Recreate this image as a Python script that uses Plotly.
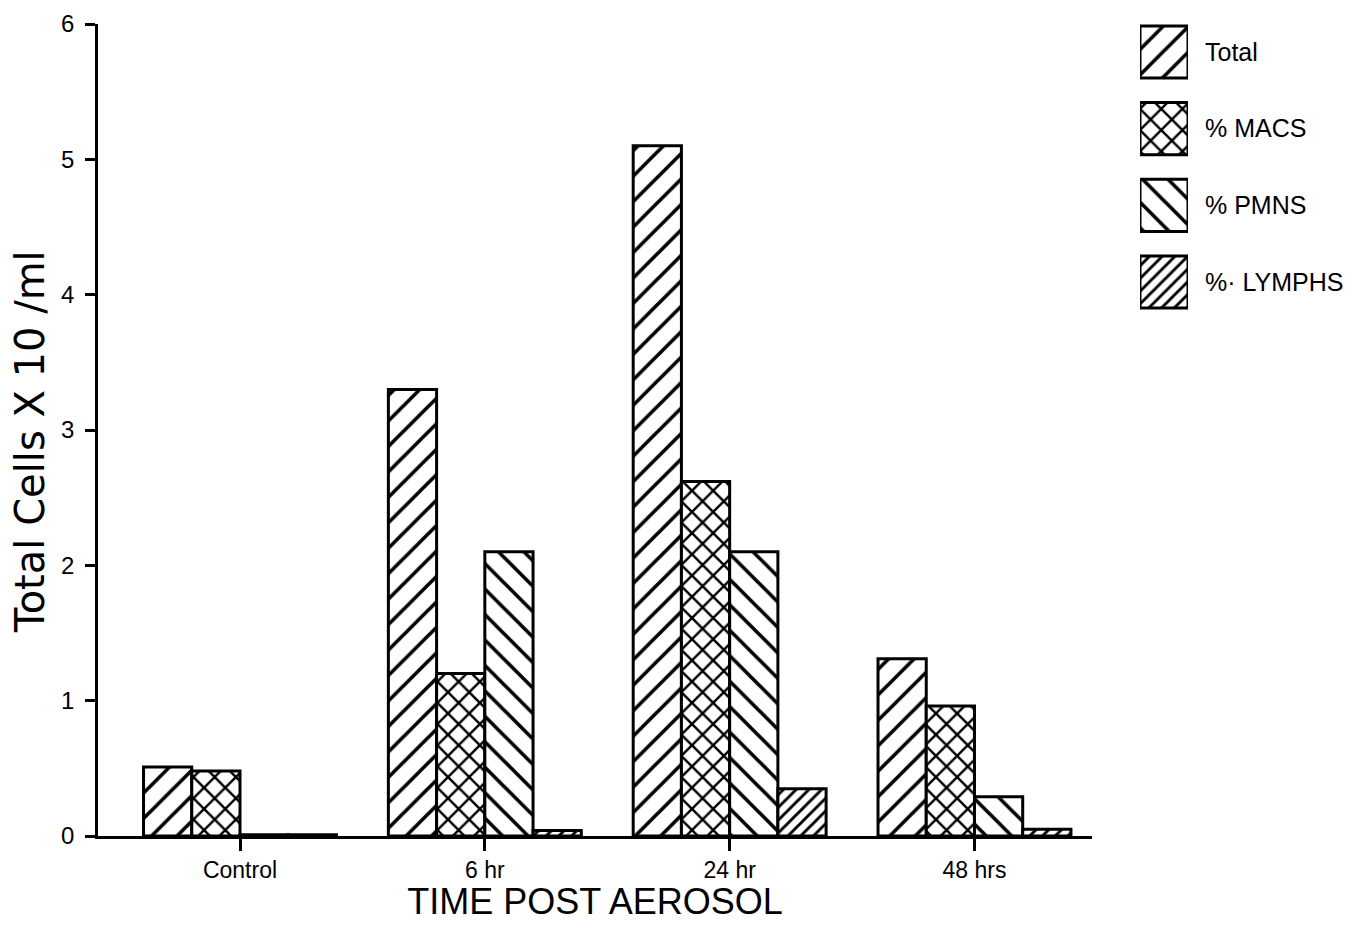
#bar chart of cells in lavage fluid after aerosol
import plotly.graph_objects as go

#categories on the x axis
categories = ["Control", "6 hr", "24 hr", "48 hrs"]

#series values
total = [0.51, 3.30, 5.10, 1.31]
macs = [0.48, 1.20, 2.62, 0.96]
pmns = [0.01, 2.10, 2.10, 0.29]
lymphs = [0.01, 0.04, 0.35, 0.05]

series_names = ["Total", "% MACS", "% PMNS", "%\u00b7 LYMPHS"]
series_values = [total, macs, pmns, lymphs]

#hatch style for each series (shape, tile size, solidity)
hatch = [("/", 18, 0.2), ("x", 15, 0.3), ("\\", 18, 0.2), ("/", 9, 0.32)]

font = "Liberation Sans, Arial, sans-serif"

#page body has an 8px margin, so the figure is a bit smaller than the window
W, H = 1338, 914
L, T, B = 90, 16, 86
plot_w = W - L
plot_h = H - T - B

fig = go.Figure()

#main bars
for name, vals, (shp, sz, sol) in zip(series_names, series_values, hatch):
    fig.add_trace(go.Bar(
        x=categories, y=vals, name=name,
        marker=dict(color="white",
                    line=dict(color="black", width=3),
                    pattern=dict(shape=shp, size=sz, solidity=sol,
                                 fgcolor="black", bgcolor="white",
                                 fillmode="replace")),
        showlegend=False))

#legend swatches drawn as bars on their own little axes
fig.add_trace(go.Bar(
    y=series_names, x=[1] * len(series_names), orientation="h",
    xaxis="x2", yaxis="y2", width=0.68, cliponaxis=False,
    marker=dict(color="white",
                line=dict(color="black", width=3),
                pattern=dict(shape=[h[0] for h in hatch],
                             size=[h[1] for h in hatch],
                             solidity=[h[2] for h in hatch],
                             fgcolor="black", bgcolor="white",
                             fillmode="replace")),
    showlegend=False, hoverinfo="skip"))

# y axis title as an annotation so it sits clear of the tick labels
fig.add_annotation(text="Total Cells X 10 /ml", textangle=-90,
                   xref="paper", yref="paper",
                   x=(30 - 98) / plot_w, y=(828 - 434) / plot_h,
                   xanchor="center", yanchor="middle", showarrow=False,
                   font=dict(family="DejaVu Sans", size=40, color="black"))

# updating plot layout
fig.update_layout(
    width=W, height=H, autosize=False,
    margin=dict(l=L, r=0, t=T, b=B, autoexpand=False),
    paper_bgcolor="white", plot_bgcolor="white",
    barmode="group", bargap=0.212, bargroupgap=0,
    xaxis=dict(domain=[0, 994 / plot_w], range=[-0.58, 3.48],
               showline=True, linewidth=2.5, linecolor="black",
               ticks="outside", ticklen=12, tickwidth=2.5, tickcolor="black",
               tickfont=dict(family=font, size=23, color="black"),
               showgrid=False, zeroline=False,
               title=dict(text="TIME POST AEROSOL", standoff=12,
                          font=dict(family=font, size=36, color="black"))),
    yaxis=dict(range=[0, 6], tickvals=[0, 1, 2, 3, 4, 5, 6],
               showline=True, linewidth=2.5, linecolor="black",
               ticks="outside", ticklen=10, tickwidth=2.5, tickcolor="black",
               ticklabelstandoff=6, ticklabeloverflow="allow",
               tickfont=dict(family=font, size=24, color="black"),
               showgrid=False, zeroline=False),
    xaxis2=dict(domain=[(1140 - 98) / plot_w, (1188 - 98) / plot_w], range=[0, 1],
                anchor="y2", visible=False),
    yaxis2=dict(domain=[(836 - 310) / plot_h, 1.0], range=[3.365, -0.365],
                anchor="x2", side="right", showline=False, showgrid=False,
                zeroline=False, ticks="", ticklabelstandoff=16,
                tickfont=dict(family=font, size=25, color="black")),
)

fig.write_html("out.html")
